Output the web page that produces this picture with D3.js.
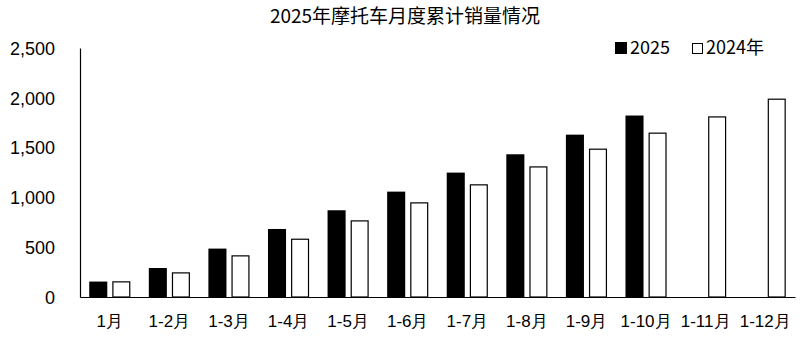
<!DOCTYPE html>
<html>
<head>
<meta charset="utf-8">
<script src="https://cdn.jsdelivr.net/npm/d3@7"></script>
<style>
  body { margin: 0; background: #fff; }
  svg { display: block; font-family: "Noto Sans CJK SC", "Noto Sans", sans-serif; }
</style>
</head>
<body>
<div id="chart_container"></div>
<script>
// categories (x axis) and the two series
const months = ["1月", "1-2月", "1-3月", "1-4月", "1-5月", "1-6月", "1-7月", "1-8月", "1-9月", "1-10月", "1-11月", "1-12月"];
const sales2025 = [155, 291, 486, 683, 871, 1058, 1249, 1433, 1630, 1822];
const sales2024 = [158, 248, 419, 586, 770, 951, 1132, 1312, 1490, 1651, 1814, 1992];
const seriesNames = ["2025", "2024年"];
const yTicks = [0, 500, 1000, 1500, 2000, 2500];

const width = 803;
const height = 340;
const margin = { top: 48, right: 8, bottom: 43, left: 80 };

const svg = d3.select("#chart_container")
  .append("svg")
  .attr("width", width)
  .attr("height", height);

// -- SCALES -- //
const x0 = d3.scaleBand()
  .domain(months)
  .range([margin.left, width - margin.right])
  .paddingInner(0)
  .paddingOuter(0);

// inner band for the two bars inside each month
const x1 = d3.scaleBand()
  .domain(seriesNames)
  .range([0, x0.bandwidth()])
  .paddingInner(0.217)
  .paddingOuter(0.4);

const y = d3.scaleLinear()
  .domain([0, 2500])
  .range([height - margin.bottom, margin.top]);

// -- AXES -- //
const yAxis = svg.append("g")
  .attr("transform", "translate(" + margin.left + ",0)")
  .call(d3.axisLeft(y).tickValues(yTicks).tickFormat(d3.format(",")).tickSize(0).tickPadding(25));

yAxis.select(".domain").attr("stroke", "#000").attr("stroke-width", 1.2);
yAxis.selectAll("text")
  .style("font-size", "18px")
  .style("fill", "#000")
  .attr("dy", "0.35em");

const xAxis = svg.append("g")
  .attr("transform", "translate(0," + (height - margin.bottom) + ")")
  .call(d3.axisBottom(x0).tickSize(0).tickPadding(18));

xAxis.select(".domain").attr("stroke", "#000").attr("stroke-width", 1.2);
xAxis.selectAll("text")
  .style("font-size", "17px")
  .style("fill", "#000");

// -- BARS -- //
// 2025 bars, black
svg.append("g")
  .selectAll("rect")
  .data(sales2025)
  .join("rect")
  .attr("x", (d, i) => x0(months[i]) + x1(seriesNames[0]))
  .attr("y", (d) => y(d))
  .attr("width", x1.bandwidth())
  .attr("height", (d) => y(0) - y(d))
  .attr("fill", "#000");

// 2024 bars, white with a black outline
svg.append("g")
  .selectAll("rect")
  .data(sales2024)
  .join("rect")
  .attr("x", (d, i) => x0(months[i]) + x1(seriesNames[1]) + 0.6)
  .attr("y", (d) => y(d) + 0.6)
  .attr("width", x1.bandwidth() - 1.2)
  .attr("height", (d) => y(0) - y(d) - 0.6)
  .attr("fill", "#fff")
  .attr("stroke", "#000")
  .attr("stroke-width", 1.2);

// -- TITLE -- //
svg.append("text")
  .attr("x", 405)
  .attr("y", 16)
  .attr("dy", "0.35em")
  .attr("text-anchor", "middle")
  .style("font-size", "19px")
  .style("fill", "#000")
  .text("2025年摩托车月度累计销量情况");

// -- LEGEND -- //
const legend = svg.append("g").attr("transform", "translate(0,48)");

legend.append("rect")
  .attr("x", 615).attr("y", -6)
  .attr("width", 12).attr("height", 12)
  .attr("fill", "#000");
legend.append("text")
  .attr("x", 630).attr("dy", "0.35em")
  .style("font-size", "18px")
  .text(seriesNames[0]);

legend.append("rect")
  .attr("x", 692.5).attr("y", -4.5)
  .attr("width", 10).attr("height", 10)
  .attr("fill", "#fff")
  .attr("stroke", "#000")
  .attr("stroke-width", 1);
legend.append("text")
  .attr("x", 706).attr("dy", "0.35em")
  .style("font-size", "18px")
  .text(seriesNames[1]);
</script>
</body>
</html>
